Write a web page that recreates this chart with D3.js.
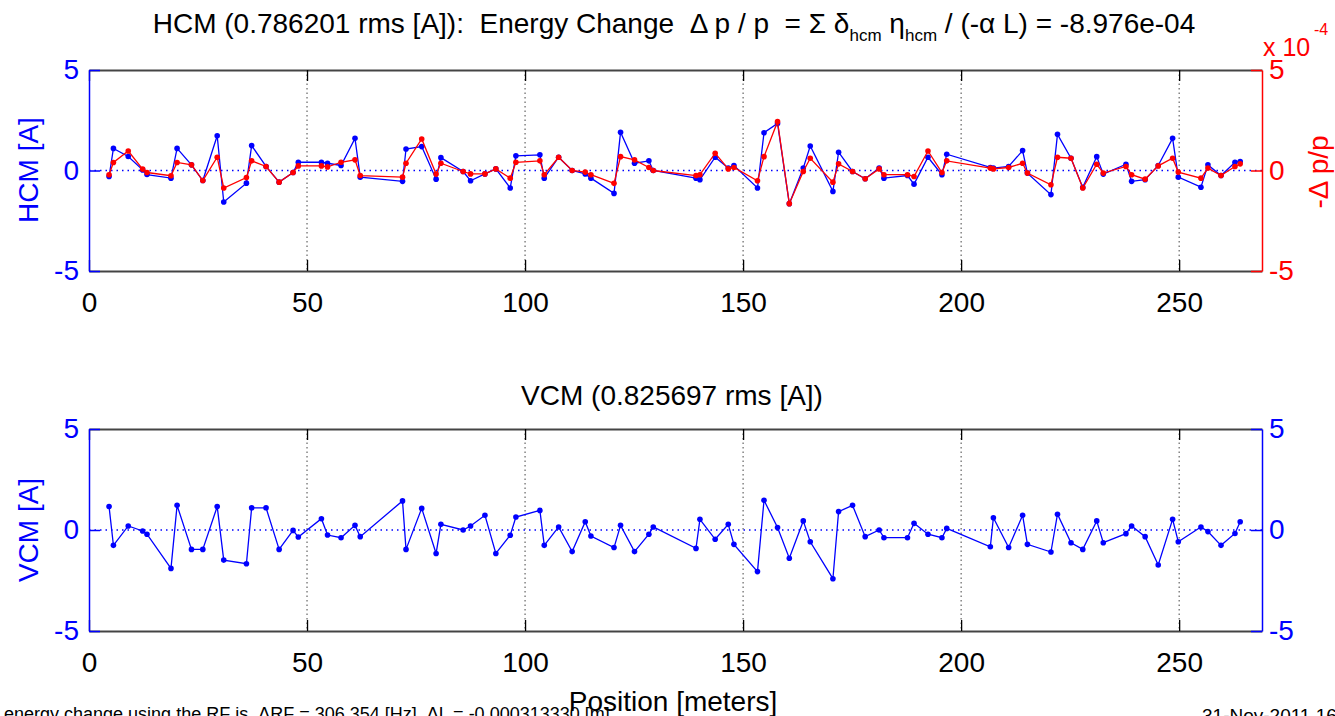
<!DOCTYPE html>
<html>
<head>
  <meta charset="utf-8">
  <title> HCM / VCM </title>
  <script src="https://cdn.jsdelivr.net/npm/d3@7"></script>
  <style>
    body { margin: 0; background: #fff; }
    text { font-family: "Liberation Sans", Arial, Helvetica, sans-serif; white-space: pre; }
  </style>
</head>
<body>
</body>
</html>
<script>
// corrector positions along the ring [m]
var positions = [4.6, 5.6, 9.0, 12.3, 13.3, 18.8, 20.2, 23.5, 26.1, 29.4, 30.9, 36.1, 37.3, 40.6, 43.6, 46.8, 48.0, 53.3, 54.7,
  57.8, 61.0, 62.2, 71.9, 72.7, 76.3, 79.6, 80.7, 85.8, 87.5, 90.8, 93.3, 96.6, 97.9, 103.4, 104.4, 107.7, 110.8, 113.8, 115.1,
  120.4, 121.9, 125.1, 128.4, 129.4, 139.2, 140.1, 143.6, 146.6, 147.9, 153.3, 154.8, 157.9, 160.6, 163.8, 165.4, 170.6, 171.9,
  175.1, 178.0, 181.2, 182.3, 187.7, 189.2, 192.4, 195.6, 196.7, 206.7, 207.4, 210.9, 214.1, 215.2, 220.6, 222.1, 225.2, 227.9,
  231.1, 232.6, 237.8, 239.1, 242.2, 245.2, 248.5, 249.8, 255.0, 256.6, 259.6, 262.8, 264.0];

// horizontal corrector currents [A]
var hcm = [-0.30, 1.10, 0.70, 0.03, -0.20, -0.38, 1.10, 0.28, -0.50, 1.73, -1.57, -0.63, 1.24, 0.20, -0.58, -0.10, 0.41, 0.41, 0.36,
  0.25, 1.60, -0.33, -0.54, 1.07, 1.19, -0.43, 0.64, -0.05, -0.51, -0.17, 0.08, -0.87, 0.73, 0.78, -0.38, 0.66, 0.00, -0.17, -0.38,
  -1.14, 1.90, 0.36, 0.48, 0.00, -0.38, -0.46, 0.66, 0.12, 0.25, -0.87, 1.88, 2.34, -1.65, 0.12, 1.22, -1.04, 0.91,
  -0.05, -0.41, 0.12, -0.38, -0.25, -0.68, 0.66, -0.21, 0.81, 0.15, 0.12, 0.20, 0.99, -0.13, -1.20, 1.80, 0.61, -0.84,
  0.69, -0.18, 0.31, -0.54, -0.46, 0.25, 1.60, -0.33, -0.83, 0.28, -0.25, 0.41, 0.45];

// -dp/p contribution, in units of 1e-4
var dpp = [-0.21, 0.40, 0.97, 0.07, -0.10, -0.26, 0.40, 0.28, -0.50, 0.66, -0.87, -0.35, 0.48, 0.20, -0.58, -0.10, 0.23, 0.23, 0.18,
  0.41, 0.53, -0.25, -0.33, 0.36, 1.57, -0.18, 0.36, -0.05, -0.17, -0.17, 0.08, -0.38, 0.41, 0.48, -0.21, 0.66, 0.00, -0.08, -0.21,
  -0.64, 0.69, 0.53, 0.15, 0.00, -0.25, -0.21, 0.86, 0.08, 0.15, -0.51, 0.69, 2.43, -1.65, -0.05, 0.61, -0.58, 0.33,
  -0.05, -0.41, 0.08, -0.21, -0.21, -0.30, 0.97, -0.10, 0.48, 0.12, 0.08, 0.15, 0.36, -0.13, -0.71, 0.66, 0.61, -0.87,
  0.31, -0.13, 0.20, -0.21, -0.43, 0.23, 0.61, -0.08, -0.38, 0.12, -0.25, 0.20, 0.33];

// vertical corrector currents [A]
var vcm = [1.16, -0.76, 0.20, -0.05, -0.21, -1.90, 1.22, -0.96, -0.96, 1.16, -1.49, -1.67, 1.10, 1.10, -0.96, -0.02, -0.35, 0.56, -0.25,
  -0.38, 0.23, -0.33, 1.44, -0.96, 1.07, -1.16, 0.28, 0.00, 0.20, 0.73, -1.16, -0.26, 0.64, 0.97, -0.76, 0.15, -1.07, 0.41, -0.30,
  -0.87, 0.23, -1.07, -0.21, 0.15, -0.91, 0.53, -0.46, 0.28, -0.71, -2.06, 1.47, 0.12, -1.40, 0.45, -0.58, -2.41, 0.91,
  1.22, -0.33, 0.00, -0.38, -0.38, 0.33, -0.21, -0.38, 0.08, -0.83, 0.61, -0.87, 0.73, -0.71, -1.09, 0.78, -0.63, -0.96,
  0.45, -0.63, -0.18, 0.20, -0.33, -1.73, 0.53, -0.58, 0.15, -0.08, -0.76, -0.17, 0.41];

var xTicks = [0, 50, 100, 150, 200, 250];
var yTicks = [-5, 0, 5];

var W = 1335, H = 716;
var left = 89, right = 1262;
var fs = 28;
var plain = function(d){return String(d);};  // hyphen minus like the original

var svg = d3.select("body").append("svg").attr("width", W).attr("height", H);

var x = d3.scaleLinear().domain([0, 269]).range([left, right]);

function drawPanel(top, bottom, series, rightColor) {
  var y = d3.scaleLinear().domain([-5, 5]).range([bottom, top]);
  var g = svg.append("g");

  // dotted grid at x ticks
  g.selectAll(".grid").data(xTicks.slice(1)).enter().append("line")
    .attr("x1", function(d){return x(d);}).attr("x2", function(d){return x(d);})
    .attr("y1", top).attr("y2", bottom)
    .style("stroke", "#444").style("stroke-width", 1).style("stroke-dasharray", "1.5,3");

  // zero line
  g.append("line").attr("x1", left).attr("x2", right).attr("y1", y(0)).attr("y2", y(0))
    .style("stroke", "#0000ff").style("stroke-width", 1.3).style("stroke-dasharray", "1.5,4");

  // bottom axis with labels
  var xb = g.append("g").attr("transform", "translate(0," + bottom + ")")
    .call(d3.axisBottom(x).tickValues(xTicks).tickSizeInner(-11).tickSizeOuter(0).tickPadding(21).tickFormat(plain));
  var xt = g.append("g").attr("transform", "translate(0," + top + ")")
    .call(d3.axisTop(x).tickValues(xTicks).tickSizeInner(-11).tickSizeOuter(0).tickFormat(""));
  [xb, xt].forEach(function(a){
    a.select(".domain").style("stroke", "#444").style("stroke-width", 2);
    a.selectAll(".tick line").style("stroke", "#000").style("stroke-width", 1.3);
    a.selectAll("text").style("font-size", fs + "px").style("font-family", null).attr("fill", "#000");
  });

  // left and right axes
  var yl = g.append("g").attr("transform", "translate(" + left + ",0)")
    .call(d3.axisLeft(y).tickValues(yTicks).tickSizeInner(-11).tickSizeOuter(0).tickPadding(10).tickFormat(plain));
  var yr = g.append("g").attr("transform", "translate(" + right + ",0)")
    .call(d3.axisRight(y).tickValues(yTicks).tickSizeInner(-11).tickSizeOuter(0).tickPadding(7).tickFormat(plain));
  [[yl, "#0000ff"], [yr, rightColor]].forEach(function(p){
    p[0].select(".domain").style("stroke", p[1]).style("stroke-width", 1.5);
    p[0].selectAll(".tick line").style("stroke", p[1]).style("stroke-width", 1.5);
    p[0].selectAll("text").style("font-size", fs + "px").style("font-family", null).attr("fill", p[1]);
  });

  // data
  series.forEach(function(s){
    var pts = positions.map(function(p, i){return [p, s.values[i]];});
    g.append("path").datum(pts)
      .attr("d", d3.line().x(function(d){return x(d[0]);}).y(function(d){return y(d[1]);}))
      .style("fill", "none").style("stroke", s.color).style("stroke-width", 1.3);
    g.selectAll(null).data(pts).enter().append("circle")
      .attr("cx", function(d){return x(d[0]);}).attr("cy", function(d){return y(d[1]);})
      .attr("r", 2.8).style("fill", s.color);
  });
  return y;
}

drawPanel(70, 271, [{values: hcm, color: "#0000ff"}, {values: dpp, color: "#ff0000"}], "#ff0000");
drawPanel(429, 631, [{values: vcm, color: "#0000ff"}], "#0000ff");

// title
var t = svg.append("text").attr("x", 674).attr("y", 33).attr("text-anchor", "middle")
  .style("font-size", fs + "px").attr("fill", "#000");
t.append("tspan").text("HCM (0.786201 rms [A]):  Energy Change  \u0394 p / p  = \u03a3 \u03b4");
t.append("tspan").attr("dy", 8).style("font-size", "17px").text("hcm");
t.append("tspan").attr("dy", -8).text(" \u03b7");
t.append("tspan").attr("dy", 8).style("font-size", "17px").text("hcm");
t.append("tspan").attr("dy", -8).text(" / (-\u03b1 L) = -8.976e-04");

// y labels
svg.append("text").attr("transform", "translate(38,170) rotate(-90)").attr("text-anchor", "middle")
  .style("font-size", fs + "px").attr("fill", "#0000ff").text("HCM [A]");
svg.append("text").attr("transform", "translate(38,530) rotate(-90)").attr("text-anchor", "middle")
  .style("font-size", fs + "px").attr("fill", "#0000ff").text("VCM [A]");
svg.append("text").attr("transform", "translate(1328,172) rotate(-90)").attr("text-anchor", "middle")
  .style("font-size", fs + "px").attr("fill", "#ff0000").text("-\u0394 p/p");

// exponent of the right axis
svg.append("text").attr("x", 1263).attr("y", 56).style("font-size", "25px").attr("fill", "#ff0000").text("x 10");
svg.append("text").attr("x", 1314).attr("y", 35).style("font-size", "16px").attr("fill", "#ff0000").text("-4");

// second title and x label
svg.append("text").attr("x", 672).attr("y", 405).attr("text-anchor", "middle")
  .style("font-size", fs + "px").attr("fill", "#000").text("VCM (0.825697 rms [A])");
svg.append("text").attr("x", 673).attr("y", 711).attr("text-anchor", "middle")
  .style("font-size", fs + "px").attr("fill", "#000").text("Position [meters]");

// footer notes (cut by the lower edge, as in the original)
svg.append("text").attr("x", 4).attr("y", 720).style("font-size", "18px").attr("fill", "#000")
  .text("energy change using the RF is  \u0394RF = 306.354 [Hz], \u0394L = -0.000313330 [m]");
svg.append("text").attr("x", 1202).attr("y", 722).style("font-size", "19px").attr("fill", "#000")
  .text("31-Nov-2011 16:47:12");
</script>
